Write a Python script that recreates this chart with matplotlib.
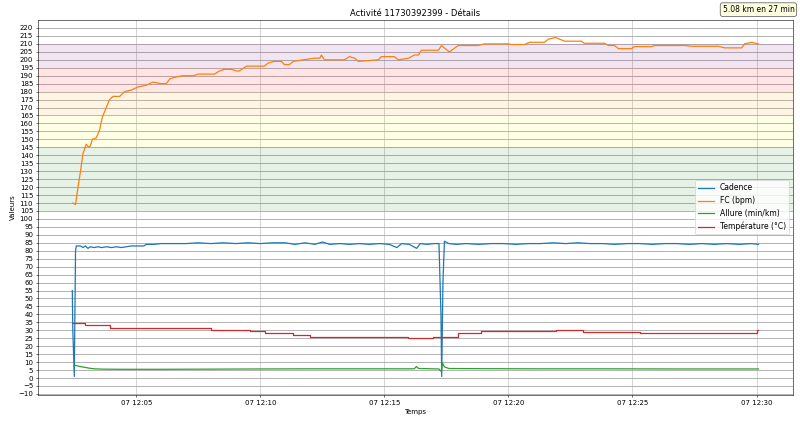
import numpy as np
import pandas as pd
import matplotlib
matplotlib.use("Agg")
import matplotlib.pyplot as plt
import matplotlib.dates as mdates

# Start of the hour, times below are minutes after it
t0 = pd.Timestamp("2024-06-07 12:00:00")

# Heart rate (bpm)
fc_min = [2.45, 2.55, 2.65, 2.75, 2.85, 2.98, 3.08, 3.15, 3.23, 3.39, 3.52, 3.63, 3.79, 3.92,
          4.06, 4.33, 4.53, 4.80, 5.07, 5.40, 5.67, 6.01, 6.21, 6.35, 6.55, 6.85, 7.30, 7.50,
          8.15, 8.35, 8.55, 8.83, 9.03, 9.15, 9.44, 10.16, 10.32, 10.56, 10.85, 10.97, 11.17,
          11.33, 11.73, 12.18, 12.40, 12.46, 12.58, 13.39, 13.59, 13.80, 13.95, 14.76, 14.88,
          15.40, 15.56, 15.97, 16.21, 16.37, 16.49, 17.18, 17.30, 17.45, 17.62, 17.98, 18.79,
          19.03, 20.00, 20.12, 20.65, 20.85, 21.45, 21.61, 21.90, 22.14, 22.26, 22.94, 23.06,
          23.87, 24.03, 24.27, 24.44, 24.96, 25.08, 25.77, 25.89, 27.10, 27.38, 28.47, 28.71,
          29.40, 29.52, 29.80, 30.08]
fc_val = [110, 109, 120, 130, 141, 147, 145, 146, 150, 151, 156, 164, 170, 175,
          177, 177, 180, 181, 183, 184, 186, 185, 185, 188, 189, 190, 190, 191,
          191, 193, 194, 194, 193, 193, 196, 196, 198, 199, 199, 197, 197,
          199, 200, 201, 201, 203, 200, 200, 202, 201, 199, 200, 202,
          202, 200, 201, 203, 203, 206, 206, 209, 207, 205, 209, 209,
          210, 210, 209.6, 209.6, 211, 211, 213, 214, 212.5, 211.7, 211.7, 210.4,
          210.4, 209, 209, 207, 207, 208.3, 208.3, 209, 209, 208.5, 208.5, 207.5,
          207.5, 210, 211, 210]

# Cadence
cad_min = [2.42, 2.44, 2.50, 2.55, 2.58, 2.75, 2.85, 2.95, 3.05, 3.15, 3.30, 3.45, 3.60, 3.80,
           4.00, 4.20, 4.40, 4.60, 4.80, 5.00, 5.30, 5.40, 5.70, 6.00, 6.50, 7.00, 7.50, 8.00,
           8.50, 9.00, 9.50, 10.00, 10.50, 11.00, 11.40, 11.80, 12.20, 12.50, 12.80, 13.20,
           13.60, 14.00, 14.40, 14.80, 15.20, 15.50, 15.70, 16.00, 16.30, 16.45, 16.70, 17.00,
           17.20, 17.28, 17.31, 17.36, 17.42, 17.60, 17.90, 18.30, 18.80, 19.30, 19.80, 20.30,
           20.80, 21.30, 21.80, 22.30, 22.80, 23.30, 23.80, 24.30, 24.80, 25.30, 25.80, 26.30,
           26.80, 27.30, 27.80, 28.30, 28.80, 29.30, 29.80, 30.08]
cad_val = [55, 30, 1, 80, 83, 83, 82, 83, 81.5, 82.5, 82, 82.5, 82, 82.5,
           82, 82.5, 82, 82.5, 83, 83, 83, 84, 84, 84.5, 84.5, 84.5, 85, 84.5,
           85, 84.5, 85, 84.5, 85, 85, 84, 85, 84, 85.5, 84, 84.5,
           84, 84.5, 84, 84.5, 84, 82, 84.5, 84, 81.5, 84.5, 84, 84.5,
           84.5, 40, 1, 60, 86, 84.5, 84, 84.5, 84, 84.5, 84.5, 84,
           84.5, 84.5, 85, 84.5, 85, 84.5, 84.5, 84, 84.5, 84.5, 84, 84.5,
           84.5, 84, 84.5, 84, 84.5, 84, 84.5, 84]

# Pace (min/km)
allure_min = [2.48, 2.55, 2.70, 2.90, 3.10, 3.30, 3.60, 4.50, 6.00, 8.00, 10.00, 12.00, 14.00,
              16.20, 16.29, 16.38, 17.20, 17.30, 17.34, 17.42, 17.60, 18.50, 21.00, 24.00,
              27.00, 30.08]
allure_val = [7.5, 8, 7.3, 6.8, 6.2, 5.8, 5.6, 5.5, 5.5, 5.6, 5.7, 5.8, 5.8,
              5.8, 7.2, 6.0, 5.7, 4.0, 9.5, 7.0, 6.0, 5.9, 5.8, 5.8,
              5.7, 5.7]

# Temperature (°C)
temp_min = [2.42, 2.94, 3.95, 8.00, 9.60, 10.20, 11.30, 12.00, 15.97, 16.94, 17.98, 18.91,
            21.90, 23.00, 25.30, 30.00, 30.08]
temp_val = [34.5, 33.5, 31.3, 30.3, 29.3, 28.3, 27, 26, 25.4, 26.1, 28.1, 29.4,
            30.2, 29.2, 28.4, 30, 30]

# HR zones (low, high, colour)
zone_lo = [105, 145, 165, 180, 195]
zone_hi = [145, 165, 180, 195, 210]
zone_col = ["green", "yellow", "orange", "red", "purple"]


def to_time(minutes):
    return (t0 + pd.to_timedelta(minutes, unit="min")).to_numpy()


fig, ax = plt.subplots(figsize=(16, 8.52), dpi=50)
fig.subplots_adjust(left=0.0475, right=0.991, top=0.953, bottom=0.073)

for lo, hi, c in zip(zone_lo, zone_hi, zone_col):
    ax.axhspan(lo, hi, color=c, alpha=0.1, lw=0)

ax.plot(to_time(cad_min), cad_val, color="tab:blue", lw=1.8, label="Cadence")
ax.plot(to_time(fc_min), fc_val, color="tab:orange", lw=1.8, label="FC (bpm)")
ax.plot(to_time(allure_min), allure_val, color="tab:green", lw=1.8, label="Allure (min/km)")
ax.plot(to_time(temp_min), temp_val, color="tab:red", lw=1.8, drawstyle="steps-post",
        label="Température (°C)")

ax.set_ylim(-10.6, 225)
ax.set_yticks(np.arange(-10, 221, 5))
ax.xaxis.set_major_locator(mdates.MinuteLocator(byminute=range(0, 60, 5)))
ax.xaxis.set_major_formatter(mdates.DateFormatter("%d %H:%M"))

ax.yaxis.grid(True, color="0.65", lw=1.2)
ax.xaxis.grid(True, color="0.8", lw=1.2)
ax.set_axisbelow(True)

ax.set_title("Activité 11730392399 - Détails")
ax.set_xlabel("Temps")
ax.set_ylabel("Valeurs")
ax.legend(loc="center right", fontsize=11)

fig.text(0.993, 0.988, "5.08 km en 27 min", ha="right", va="top", fontsize=11,
         bbox=dict(boxstyle="round,pad=0.3", facecolor="lightyellow", edgecolor="0.3"))

fig.savefig("out.png", dpi=50)
